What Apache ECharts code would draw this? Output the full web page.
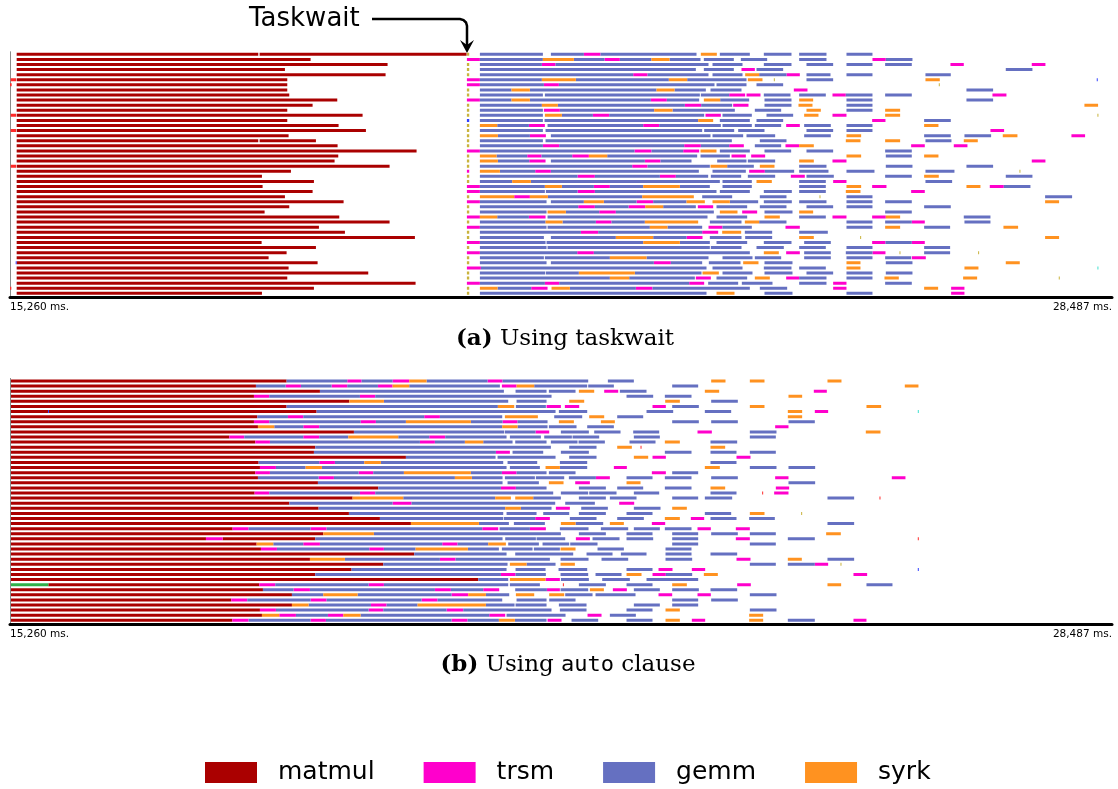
<!DOCTYPE html>
<html><head><meta charset="utf-8">
<script src="https://cdn.jsdelivr.net/npm/echarts@6/dist/echarts.min.js"></script>
<style>html,body{margin:0;padding:0;background:#fff}#c{width:1118px;height:789px}</style>
</head><body><div id="c"></div><script>
// Time range of the trace (ms) and the two axis end labels
const T0 = 15260, T1 = 28487;
const tickLabels = ['15,260 ms.', '28,487 ms.'];
const taskNames = ['matmul', 'trsm', 'gemm', 'syrk'];
const taskCodes = ['m', 't', 'g', 's'];
const taskColors = ['#aa0000', '#ff00cc', '#6570c1', '#ff9220'];
const otherKeys = ['r', 'y', 'b', 'c', 'e'];
const otherColors = ['#ff2a2a', '#c9b33c', '#3040ff', '#40e0d0', '#2eb04a'];

// One string per thread; each token = task code + start-end (ms elapsed since 15,260 ms)
const taskwaitRows = [
"m80-2980 m2996-5480 y5484-5512 g5640-6396 g6492-6888 t6888-7088 g7088-8240 s8292-8484 g8520-8880 g9048-9380 g9472-9800 g10040-10352",
"m80-3608 t5484-5640 g5640-6396 s6396-6768 g6768-7136 t7136-7320 g7320-7700 s7700-7916 g7916-8288 g8328-8688 g8772-9088 g9472-9800 t10352-10512 g10512-10832",
"m80-4532 y5484-5512 g5640-6384 t6384-6548 g6548-8384 g8432-8792 g9048-9380 g9560-9880 g10040-10352 g10504-10824 t11288-11448 t12264-12428",
"m80-3300 y5484-5512 g5640-8232 g8328-8688 t8780-8940 g8960-9280 g11952-12272",
"m80-4508 y5484-5512 g5640-7480 t7480-7652 g7652-8384 g8432-8792 s8824-8992 g8992-9320 t9320-9480 g9560-9848 g10040-10352 g10988-11292",
"r8-72 m80-3328 t5484-5640 g5640-6384 s6384-6792 g6792-7908 s7908-8128 g8128-8840 s8856-9032 y9168-9180 g9560-9880 s10988-11160 b13044-13056",
"r0-20 m80-3328 t5484-5640 g5640-6408 t6408-6588 g6588-8456 g8480-8840 g8960-9280 y11148-11160",
"m80-3328 y5484-5512 g5640-6020 s6020-6240 g6240-7760 s7760-7976 g7976-8352 g8408-8780 t9408-9572 g11480-11800",
"m80-3352 y5484-5512 g5640-6396 g6420-8280 g8292-8632 t8632-8824 t8840-9008 g9048-9368 g9472-9792 t9872-10032 g10032-10352 g10504-10824 t11792-11960",
"m80-3928 t5484-5640 g5640-6020 s6020-6240 g6240-7692 t7692-7884 g7884-8272 s8328-8524 g8524-8872 g9056-9380 s9472-9640 g10040-10352 g11480-11800",
"m80-3632 y5484-5512 g5640-6384 s6384-6576 g6576-8100 t8100-8296 g8296-8668 t8680-8864 g9056-9380 s9464-9632 g10040-10352 s12896-13060",
"m80-3328 y5484-5512 g5640-6396 t6408-6600 g6600-7732 s7732-7952 g7952-8700 g8940-9256 s9560-9732 g10040-10352 s10504-10684",
"r8-72 m80-4232 y5484-5512 g5640-6396 s6420-6624 g6624-6996 t6996-7192 g7192-8332 t8348-8532 g8552-8904 g9080-9400 s9532-9704 t9872-10040 s10504-10684 y13052-13064",
"m80-3328 b5484-5512 g5640-6396 g6416-8260 s8260-8440 g8520-8880 g8960-9280 t10348-10508 g10972-11292",
"m80-3944 y5484-5512 s5640-5848 g5848-6228 t6228-6420 g6452-7600 t7600-7792 g7792-8532 g8552-8904 g8940-9256 t9316-9480 g9532-9852 g10040-10352 s10972-11144",
"r8-72 m80-4272 y5484-5512 g5640-6396 g6428-8308 g8332-8692 g8740-9056 g9560-9880 g10040-10352 t11768-11932",
"m80-3344 y5484-5512 s5640-5856 g5856-6240 t6240-6432 g6492-8408 g8432-8800 g8840-9184 g9532-9852 s10040-10216 g10972-11292 g11456-11776 s11916-12092 t12740-12904",
"m80-2980 m2996-3672 y5484-5512 g5640-6396 g6428-8664 g9000-9320 s10032-10208 s10504-10684 g10988-11300 s11448-11616",
"m80-3932 y5484-5512 g5640-6396 t6396-6592 g6592-8092 t8092-8292 g8292-8632 t8632-8808 g8940-9256 t9308-9472 s9472-9648 t10816-10980 t11328-11492",
"m80-4880 t5484-5640 g5640-7496 t7496-7700 g7700-8080 t8080-8272 s8288-8480 g8520-8880 g9056-9376 g9560-9880 g10504-10824",
"m80-3940 y5484-5512 s5640-5840 g5840-6208 t6208-6380 g6380-6748 t6748-6948 s6948-7168 g7168-8248 g8288-8640 t8660-8832 t8896-9064 s10040-10216 g10512-10824 s10972-11144",
"m80-3896 y5484-5512 s5640-5856 g5856-6232 t6232-6428 g6492-7620 t7620-7808 g7808-8180 g8488-8840 g8856-9184 s9472-9648 t9872-10040 t12264-12428",
"r8-72 m80-4556 y5484-5512 g5640-7468 t7468-7652 g7652-8400 s8408-8608 g8608-8928 s9000-9176 g9472-9800 g10512-10832 g11480-11800",
"m80-3372 t5484-5512 s5640-5880 g5880-6304 t6304-6492 g6492-8268 g8432-8832 t8872-9060 g9060-9412 g9472-9824 g10040-10376 g10988-11336 y12116-12128",
"m80-3024 y5484-5512 g5640-6812 t6812-7020 g7020-7800 t7800-7992 g7992-8380 g8412-8776 g8856-9184 t9372-9540 g9560-9888 g10504-10824 s10972-11148 g11952-12272",
"m80-3648 y5484-5512 g5640-6028 s6028-6252 g6252-8520 g8552-8904 s8960-9144 g9472-9792 t9880-10040 g10988-11308",
"m80-3032 t5484-5640 g5640-6420 s6420-6624 g6624-7008 t7008-7200 g7200-7600 s7600-8040 g8040-8400 g8552-8904 g9472-9792 s10040-10216 t10348-10520 s11480-11648 t11760-11928 g11928-12248",
"m80-3632 t5484-5640 g5640-6420 g6432-6812 t6812-7020 g7020-8480 g8520-8880 g9048-9384 g9472-9792 s10032-10208 t10816-10980",
"m80-3300 y5484-5512 s5640-6052 t6052-6240 s6240-6456 g6456-7588 s7588-8208 g8308-8668 g9000-9320 y9716-9728 g10040-10352 g12424-12748",
"m80-4004 t5484-5640 g5640-6440 g6492-6888 s6888-7128 g7128-7520 t7520-7720 g7720-8120 s8120-8340 s8432-8640 g8640-8980 g9048-9384 g9472-9800 g10040-10352 g10504-10824 s12424-12592",
"m80-3352 y5484-5512 g5640-6820 t6820-7020 g7020-7424 t7424-7624 s7624-7840 g7840-8232 t8256-8440 g8480-8848 g9000-9320 g9560-9880 g10040-10352 g10972-11292",
"m80-3056 y5484-5512 g5640-6440 s6452-6672 g6672-7072 t7072-7272 g7272-8448 s8520-8732 t8788-8968 g9056-9392 s9472-9640 g10504-10824",
"m80-3952 t5484-5640 s5640-5848 g5848-6228 t6228-6428 g6452-8372 g8480-8848 s9056-9240 g9472-9792 t9872-10040 t10348-10512 s10512-10684 g11448-11768",
"m80-4556 y5484-5512 g5640-6428 s6428-6632 g6632-7032 t7032-7220 g7220-7620 s7620-8260 g8400-8780 s8820-8992 g8992-9320 g10040-10352 g10504-10824 t10824-10980 g11456-11768",
"m80-3708 t5484-5640 g5640-6440 g6452-7680 s7680-7892 g7892-8308 t8384-8552 g8552-8904 t9308-9480 g10040-10352 s10504-10684 g10972-11284 s11924-12100",
"m80-4020 y5484-5512 g5640-6852 t6852-7060 g7060-8308 t8308-8500 s8548-8776 g8820-9148 g9472-9816",
"m80-4860 y5484-5512 g5640-6408 g6492-7272 s7272-7720 g7720-8120 t8120-8312 g8400-8780 g8824-9148 s9472-9648 y10204-10216 s12424-12592",
"m80-3020 t5484-5640 g5640-6428 g6440-7600 s7600-8040 g8040-8400 g8480-8848 g9048-9380 g9532-9852 t10348-10508 g10508-10824 t10824-10980",
"m80-3672 y5484-5512 g5640-6440 g6452-8400 g8412-8780 g8960-9288 g9472-9792 g10040-10352 g10972-11284",
"m80-3320 t5484-5640 g5640-6808 t6808-7008 g7008-8880 s9048-9228 t9316-9480 g9532-9852 g10032-10352 t10352-10508 y10676-10688 g10972-11284 y11620-11632",
"m80-3104 y5484-5512 g5640-6408 g6420-7200 s7200-7640 g7640-8384 g8552-8912 g8940-9256 g9532-9852 g10040-10352 g10504-10816 t10824-10992",
"b68-80 m80-3692 y5484-5512 g5640-6440 g6492-7728 t7728-7932 g7932-8308 g8388-8768 s8800-8984 g9056-9392 s10040-10208 g10512-10832 s11952-12120",
"m80-3344 t5484-5652 g5652-8360 g8432-8792 g9048-9380 g9472-9792 s10040-10208 s11456-11624 c13052-13064",
"m80-4300 y5484-5512 g5640-6424 g6432-6828 s6828-7500 g7500-8300 s8312-8508 g8552-8912 g9056-9392 g9560-9880 g10040-10352 g10512-10832",
"m80-3328 y5484-5512 g5640-7200 s7200-7432 g7432-8220 t8232-8412 g8480-8848 s8940-9120 t9316-9472 g9472-9800 g10040-10352 s10496-10668 s11440-11608 y12588-12600",
"m80-4868 t5484-5640 g5640-6420 t6420-6592 g6592-8152 t8152-8332 g8380-8740 g8784-9152 g9472-9800 t9880-10040 g10504-10824",
"r0-16 m80-3648 y5484-5512 s5640-5852 g5852-6256 t6256-6452 s6500-6720 g6720-7512 t7512-7712 g7712-8880 g9000-9328 t9880-10040 s10972-11140 t11296-11456",
"m80-3024 y5484-5512 g5640-8360 s8480-8696 g9056-9392 g10040-10352 t11296-11456"
];

const autoRows = [
"m12-3320 g3320-4048 t4048-4220 g4220-4592 t4592-4792 s4792-5000 g5000-5732 t5732-5912 g5912-6940 g7176-7488 s8416-8588 s8880-9056 s9812-9980",
"m12-2952 g2952-3308 t3308-3492 g3492-3860 t3860-4048 g4048-4416 t4416-4592 s4592-4792 g4792-5880 t5904-6080 s6080-6292 g6292-6928 g6940-7248 g7948-8260 s10740-10904",
"m12-3720 g3720-5928 g6068-6440 g6468-6788 s6828-7012 t7132-7300 g7320-7640 s8340-8512 t9648-9804",
"m12-2928 t2928-3112 g3112-4200 t4200-4384 g4384-6500 g7400-7720 g7860-8180 s9344-9508",
"m12-4072 s4072-4488 g4488-5980 g6080-6440 s6712-6892 s7864-8040 g8416-8736",
"m12-3320 g3320-5856 s5856-6052 g6072-6432 t6440-6612 t6660-6832 t7712-7872 g7948-8268 s8880-9056 s10280-10456",
"m12-3680 b456-468 g3680-6548 g6588-6928 g7640-7960 g8340-8656 s9336-9508 t9660-9820 c10896-10908",
"m12-2968 g2968-3336 t3336-3520 g3520-4972 t4972-5160 g5160-5908 s5940-6336 g6532-6868 s6952-7132 g7288-7600 s9336-9508",
"m12-2928 t2928-3112 g3112-4208 t4208-4392 g4392-4752 s4752-5532 g5532-5912 t5912-6092 g6092-6452 s6588-6768 s7092-7260 g7948-8268 g8416-8736 g9344-9660",
"m12-2976 s2976-3172 g3172-3520 t3520-3712 g3712-5908 s5908-6092 g6092-6452 g6468-6800 g6928-7248 t9184-9344",
"m12-4128 g4128-5932 g5940-6308 t6308-6472 g6612-6948 g7012-7328 g7480-7792 t8252-8424 g8880-9200 s10272-10448",
"m12-2632 t2632-2812 g2812-3520 t3520-3712 g3712-4060 s4060-4660 g4660-5032 t5032-5224 g5224-5960 g6000-6372 g6412-6744 g6752-7072 g7488-7800 g8880-9192",
"m12-2944 t2944-3120 g3120-4920 t4920-5100 g5100-5460 s5460-5680 g5680-6032 g6064-6440 g6492-6812 g6824-7140 g7436-7748 s7860-8040 g8408-8728",
"m12-3664 g3664-6492 g6712-7040 s7288-7464 r7568-7580 s8408-8584",
"m12-3648 g3648-5832 t5832-6000 g6032-6400 g6612-6948 g7860-8180 g8408-8720 g8880-9192",
"m12-4752 g4752-5828 g5852-6548 g6712-7040 s7488-7660 t7712-7872 t8720-8888",
"m12-2984 g2984-3712 t3712-3900 g3900-4252 s4252-4452 g4452-5920 g5972-6328 g6600-6928 g8408-8720",
"m12-3000 t3000-3192 g3192-3548 s3548-3744 g3744-5960 g6000-6360 s6428-6600 g6600-6928 t7248-7404 s8340-8520 g8880-9200 g9344-9664",
"m12-2944 t2944-3120 g3120-4184 t4184-4360 g4360-4728 s4728-5532 g5532-5904 t5904-6080 g6080-6440 g6468-6788 t7704-7872 g7948-8260",
"m12-2976 g2976-3704 t3704-3888 g3888-5340 s5340-5544 g5544-5912 g5940-6300 g6312-6652 g6708-7032 t7032-7200 g7400-7712 g7860-8180 g8416-8736 t9184-9344 t10584-10748",
"m12-3696 g3696-5912 g5972-6348 s6468-6644 t6784-6960 s7400-7568 g9344-9664",
"m12-4420 g4420-5892 t5892-6072 g6072-6440 g6828-7152 g7288-7600 g7860-8180 s8408-8584 t9192-9352",
"m12-2936 t2936-3112 g3112-4200 t4200-4384 g4384-6520 g6612-6940 g6952-7280 g7488-7792 g8408-8720 r9028-9040 t9172-9344",
"m12-4112 s4112-4720 g4720-5824 s5824-6012 s6064-6280 g6280-6612 g6828-7152 g7200-7520 g7948-8260 g8340-8668 g9812-10132 r10436-10448",
"m12-3352 g3352-4592 t4592-4820 g4820-6544 g6664-7020 t7312-7492",
"m12-3704 g3704-5944 s5944-6132 g6132-6500 t6552-6720 g6856-7176 g7488-7808 s7948-8124",
"m12-4068 g4068-5920 g5960-6320 g6400-6712 g6828-7152 g7400-7712 g8340-8656 s8880-9056 y9496-9508",
"m12-4440 g4440-5920 g5928-6304 t6304-6480 g6720-7040 g7288-7608 s7860-8040 t8172-8332 g8408-8720 g8872-9180",
"m12-4812 s4812-5628 g5628-5988 g6048-6420 s6612-6788 g6788-7120 s7200-7368 t7704-7864 g9812-10132",
"m12-2672 t2672-2864 g2864-3608 t3608-3800 g3800-5668 t5668-5860 g5876-6240 t6240-6432 g6600-6944 g7092-7420 g7488-7800 g7860-8180 t8252-8412 t8712-8880",
"m12-3760 s3760-4368 g4368-6612 g6828-7152 g7400-7712 g7948-8260 g8416-8736 g8880-9192 s9796-9972",
"m12-2352 t2352-2552 m2552-3664 g3664-5912 g5944-6312 g6320-6664 t6792-6960 g6992-7316 g7400-7720 g7948-8260 t8712-8880 g9336-9660 r10896-10908",
"m12-2960 s2960-3160 g3160-3520 t3520-3720 g3720-5188 t5188-5372 g5372-5740 s5740-5952 g5980-6348 g6392-6712 g6724-7052 g7948-8260 g8880-9192",
"m12-3012 t3012-3204 g3204-4312 t4312-4488 g4488-4868 s4868-5496 g5496-5868 g5904-6272 g6288-6600 s6608-6788 g7052-7368 g7868-8180",
"m12-4852 g4852-5960 g6064-6760 g6920-7232 g7332-7640 g7868-8180 g8408-8728",
"m12-3600 s3600-4020 g4020-5160 t5160-5348 g5348-6480 g6608-6944 g7100-7420 g7868-8188 t8720-8888 s9336-9504 g9812-10132",
"m12-4480 g4480-5972 s6000-6200 g6200-6548 s6608-6780 g8880-9192 g9336-9660 t9660-9820 y9968-9980",
"m12-4100 g4100-5960 g6068-6428 g6584-6928 g7400-7712 t7784-7952 t8184-8344 b10896-10908",
"m12-3664 g3664-5892 t5892-6068 g6068-6432 g6608-6940 g7028-7340 s7400-7580 t7712-7872 g7872-8188 s8328-8496 t10124-10288",
"m12-5620 g5620-5980 s6000-6428 t6428-6600 g6612-6948 g7108-7440 g7640-8260",
"e12-460 m460-2992 t2992-3184 g3184-4304 t4304-4488 g4488-5980 g6000-6360 r6636-6648 g6828-7152 g7400-7712 s7948-8124 t8728-8892 s9812-9976 g10280-10592",
"m12-3036 g3036-3404 t3404-3600 g3600-5100 t5100-5292 g5292-5680 t5680-5872 g6064-6444 t6444-6600 g6608-6940 s6960-7128 t7236-7404 g7488-7800 g7948-8268 g8408-8728",
"m12-3384 g3384-3760 s3760-4172 g4172-5300 t5300-5500 s5500-5712 g5712-5992 s6072-6292 s6472-6652 g6664-6992 g7028-7508 t7784-7948 t8252-8412 g8880-9200",
"m12-2656 t2656-2848 g2848-3608 t3608-3800 g3800-4940 t4940-5132 g5132-5908 g6080-6440 g6472-6788 g7948-8260 g8416-8736",
"m12-3384 s3384-3584 g3584-4332 t4332-4520 g4520-4892 s4892-5712 g5712-6056 g6068-6440 g6588-6920 g7488-7800 g7948-8260",
"m12-3000 t3000-3192 g3192-4304 t4304-4480 g4480-5240 t5240-5440 g5440-6500 g6600-6920 g7400-7712 s7868-8040 g8880-9200",
"m12-3024 s3024-3232 t3232-3432 g3432-3816 t3816-4000 s4000-4208 g4208-5752 t5752-5944 g5960-6668 t6932-7100 g7200-7512 s8872-9040",
"m12-2668 t2668-2864 g2864-3608 t3608-3792 g3792-5300 t5300-5492 g5492-5868 s5868-6060 g6060-6440 t6452-6620 g6740-7060 g7400-7712 s7868-8040 t8184-8344 s8872-9040 g9336-9660 t10124-10280"
];

function parseRows(rows) {
  const buckets = taskCodes.map(() => []);
  const other = [];
  rows.forEach((line, r) => {
    line.trim().split(/\s+/).forEach(tok => {
      const m = tok.match(/^([a-z])(\d+)-(\d+)$/);
      if (!m) return;
      const a = +m[2], b = +m[3];
      const k = taskCodes.indexOf(m[1]);
      if (k >= 0) buckets[k].push([r, a, b]);
      else other.push([r, a, b, otherKeys.indexOf(m[1])]);
    });
  });
  return { buckets, other };
}

const BAR_H = 3;
function makeRender(colorFn) {
  return function (params, api) {
    const r = api.value(0);
    const p0 = api.coord([api.value(1), r]);
    const p1 = api.coord([api.value(2), r]);
    return {
      type: 'rect',
      shape: { x: p0[0], y: p0[1] - BAR_H / 2, width: Math.max(p1[0] - p0[0], 1), height: BAR_H },
      style: { fill: colorFn(api) }
    };
  };
}

const panels = [taskwaitRows, autoRows];
const series = [];
panels.forEach((rows, gi) => {
  const { buckets, other } = parseRows(rows);
  buckets.forEach((data, k) => {
    series.push({
      type: 'custom', name: taskNames[k], xAxisIndex: gi, yAxisIndex: gi,
      itemStyle: { color: taskColors[k] },
      encode: { x: [1, 2], y: 0 },
      renderItem: makeRender(() => taskColors[k]),
      data, clip: true, silent: true
    });
  });
  series.push({
    type: 'custom', name: 'other', xAxisIndex: gi, yAxisIndex: gi,
    encode: { x: [1, 2], y: 0 },
    renderItem: makeRender(api => otherColors[api.value(3)]),
    data: other, clip: true, silent: true
  });
});

const span = T1 - T0;
function xAxisFor(gi) {
  return {
    type: 'value', gridIndex: gi, min: 0, max: span, interval: span, offset: 1.5,
    axisLine: { show: true, onZero: false, lineStyle: { color: '#000', width: 3 } },
    axisTick: { show: false }, splitLine: { show: false },
    axisLabel: {
      show: true, margin: 4, fontSize: 10.5, fontFamily: 'DejaVu Sans', color: '#000',
      alignMinLabel: 'left', alignMaxLabel: 'right',
      formatter: v => (v === 0 ? tickLabels[0] : tickLabels[1])
    }
  };
}
function yAxisFor(gi, n) {
  return {
    type: 'value', gridIndex: gi, min: -0.5, max: n - 0.5, inverse: true,
    axisLine: { show: true, onZero: false, lineStyle: { color: '#8a8a8a', width: 1 } },
    axisTick: { show: false }, axisLabel: { show: false }, splitLine: { show: false }
  };
}

const chart = echarts.init(document.getElementById('c'), null, { renderer: 'canvas' });
chart.setOption({
  animation: false,
  backgroundColor: '#fff',
  grid: [
    { left: 10, width: 1102, top: 51.76, height: 244.1 },
    { left: 10, width: 1102, top: 378.45, height: 244.4 }
  ],
  xAxis: [xAxisFor(0), xAxisFor(1)],
  yAxis: [yAxisFor(0, taskwaitRows.length), yAxisFor(1, autoRows.length)],
  legend: {
    data: taskNames, left: 200, top: 755, icon: 'rect', itemWidth: 52, itemHeight: 21, itemGap: 49,
    selectedMode: false,
    textStyle: { fontSize: 25, fontFamily: 'DejaVu Sans', color: '#000', padding: [0, 0, 0, 16] }
  },
  graphic: [
    { type: 'text', x: 249, y: 19, style: { text: 'Taskwait', fontSize: 26, fontFamily: 'DejaVu Sans', fill: '#000', verticalAlign: 'middle', textVerticalAlign: 'middle' } },
    { type: 'polyline', shape: { points: [[372, 19], [460, 19], [463.5, 20], [466, 22.5], [467, 26], [467, 48]] },
      style: { stroke: '#000', lineWidth: 2.5, fill: null } },
    { type: 'polygon', shape: { points: [[460, 40], [467, 53], [474, 40], [467, 45]] }, style: { fill: '#000' } },
    { type: 'text', x: 565, y: 339,
      style: { text: '{b|(a)} Using taskwait', align: 'center', verticalAlign: 'middle', textAlign: 'center', textVerticalAlign: 'middle',
        fontSize: 23, fontFamily: 'DejaVu Serif', fill: '#000',
        rich: { b: { fontSize: 23, fontFamily: 'DejaVu Serif', fontWeight: 'bold' } } } },
    { type: 'text', x: 568, y: 665,
      style: { text: '{b|(b)} Using {m|auto} clause', align: 'center', verticalAlign: 'middle', textAlign: 'center', textVerticalAlign: 'middle',
        fontSize: 23, fontFamily: 'DejaVu Serif', fill: '#000',
        rich: { b: { fontSize: 23, fontFamily: 'DejaVu Serif', fontWeight: 'bold' },
                m: { fontSize: 22, fontFamily: 'DejaVu Sans Mono' } } } }
  ],
  series
});
</script></body></html>
